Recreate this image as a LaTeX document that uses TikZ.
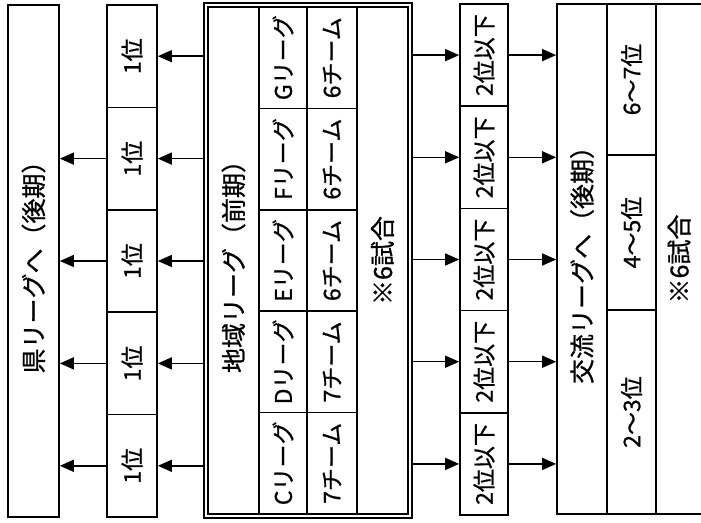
\documentclass[tikz,border=0pt]{standalone}
\usepackage{fontspec}
\newfontfamily\jp{Noto Sans CJK JP}[FakeBold=0.8]
\usetikzlibrary{arrows.meta}
\begin{document}
\begin{tikzpicture}[x=1pt,y=-1pt,
  cell/.style={draw, line width=1.7pt, inner sep=0pt, font=\jp\fontsize{23}{23}\selectfont},
  title/.style={cell, font=\jp\fontsize{25}{25}\selectfont},
  frame/.style={draw, line width=1.3pt, inner sep=0pt},
  arr/.style={line width=1.5pt, -{Triangle[length=14pt,width=12pt]}}]
\useasboundingbox[fill=white] (0,0) rectangle (701,522);
% column 1
\node[title, minimum width=51pt, minimum height=512pt] (ken) at (33.5,261) {\rotatebox{90}{県リーグへ（後期）}};
% column 2
\node[cell, minimum width=50pt, minimum height=102.4pt] (b1) at (132,56.2) {\rotatebox{90}{1位}};
\node[cell, minimum width=50pt, minimum height=102.4pt] (b2) at (132,158.6) {\rotatebox{90}{1位}};
\node[cell, minimum width=50pt, minimum height=102.4pt] (b3) at (132,261) {\rotatebox{90}{1位}};
\node[cell, minimum width=50pt, minimum height=102.4pt] (b4) at (132,363.4) {\rotatebox{90}{1位}};
\node[cell, minimum width=50pt, minimum height=102.4pt] (b5) at (132,465.8) {\rotatebox{90}{1位}};
% column 3
\node[frame, minimum width=208pt, minimum height=515pt] (chiiki) at (308,260.5) {};
\node[frame, minimum width=200pt, minimum height=507pt] (chiikiin) at (308,260.5) {};
\node[title, minimum width=51pt, minimum height=507pt] (t3) at (233.5,260.5) {\rotatebox{90}{地域リーグ（前期）}};
\node[cell, minimum width=48pt, minimum height=101.4pt] (lg) at (283,57.7) {\rotatebox{90}{Gリーグ}};
\node[cell, minimum width=48pt, minimum height=101.4pt] (lf) at (283,159.1) {\rotatebox{90}{Fリーグ}};
\node[cell, minimum width=48pt, minimum height=101.4pt] (le) at (283,260.5) {\rotatebox{90}{Eリーグ}};
\node[cell, minimum width=48pt, minimum height=101.4pt] (ld) at (283,361.9) {\rotatebox{90}{Dリーグ}};
\node[cell, minimum width=48pt, minimum height=101.4pt] (lc) at (283,463.3) {\rotatebox{90}{Cリーグ}};
\node[cell, minimum width=50pt, minimum height=101.4pt] (ng) at (332,57.7) {\rotatebox{90}{6チーム}};
\node[cell, minimum width=50pt, minimum height=101.4pt] (nf) at (332,159.1) {\rotatebox{90}{6チーム}};
\node[cell, minimum width=50pt, minimum height=101.4pt] (ne) at (332,260.5) {\rotatebox{90}{6チーム}};
\node[cell, minimum width=50pt, minimum height=101.4pt] (nd) at (332,361.9) {\rotatebox{90}{7チーム}};
\node[cell, minimum width=50pt, minimum height=101.4pt] (nc) at (332,463.3) {\rotatebox{90}{7チーム}};
\node[title, draw=none, minimum width=51pt, minimum height=507pt] (s3) at (382.5,260.5) {\rotatebox{90}{※6試合}};
% column 4
\node[cell, minimum width=48pt, minimum height=102.2pt] (c1) at (484,55.1) {\rotatebox{90}{2位以下}};
\node[cell, minimum width=48pt, minimum height=102.2pt] (c2) at (484,157.3) {\rotatebox{90}{2位以下}};
\node[cell, minimum width=48pt, minimum height=102.2pt] (c3) at (484,259.5) {\rotatebox{90}{2位以下}};
\node[cell, minimum width=48pt, minimum height=102.2pt] (c4) at (484,361.7) {\rotatebox{90}{2位以下}};
\node[cell, minimum width=48pt, minimum height=102.2pt] (c5) at (484,463.9) {\rotatebox{90}{2位以下}};
% column 5
\node[cell, minimum width=148pt, minimum height=510pt] (kouryu) at (631,259) {};
\node[title, minimum width=50pt, minimum height=510pt] (t5) at (582,259) {\rotatebox{90}{交流リーグへ（後期）}};
\node[cell, minimum width=49pt, minimum height=151pt] (p1) at (631.5,79.5) {\rotatebox{90}{6～7位}};
\node[cell, minimum width=49pt, minimum height=155pt] (p2) at (631.5,232.5) {\rotatebox{90}{4～5位}};
\node[cell, minimum width=49pt, minimum height=204pt] (p3) at (631.5,412) {\rotatebox{90}{2～3位}};
\node[title, draw=none, minimum width=46pt, minimum height=510pt] (s5) at (679,259) {\rotatebox{90}{※6試合}};
% arrows
\foreach \i in {1,...,5}{
  \draw[arr] (chiiki.west |- b\i.east) -- (b\i.east);
  \draw[arr] (chiiki.east |- c\i.west) -- (c\i.west);
  \draw[arr] (c\i.east) -- (kouryu.west |- c\i.east);
}
\foreach \i in {2,...,5}{
  \draw[arr] (b\i.west) -- (ken.east |- b\i.west);
}
\end{tikzpicture}
\end{document}
